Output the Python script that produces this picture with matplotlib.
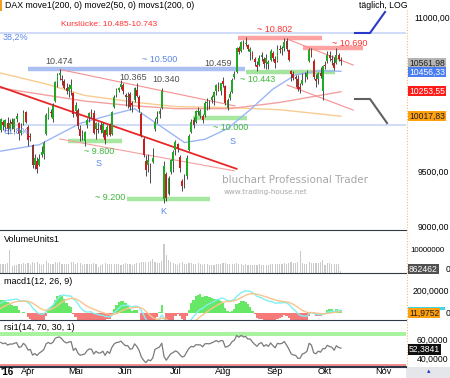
import numpy as np
import pandas as pd
import matplotlib
matplotlib.use("Agg")
import matplotlib.pyplot as plt

plt.rcParams['font.family'] = ['Liberation Sans', 'DejaVu Sans']

# DAX daily candles, 14.03.2016 - 12.10.2016 (one entry per trading day)
opens = [9890, 9960, 9920, 9950, 9900, 9960, 9900, 9990, 9950, 9860, 9940, 10060,
         9920, 9830, 9750, 9560, 9600, 9560, 9650, 9660, 9850, 10000, 10060, 9990, 10160, 10340, 10420, 10380, 10360, 10290, 10260, 10280, 10240,
         10070, 10080, 9900, 9840, 9780, 9930, 10010, 10060, 10050, 9900, 9900, 9930, 9860, 9890, 9840, 9940, 9850, 10110, 10220, 10270, 10300, 10320,
         10220, 10200, 10230, 10140, 10170, 10270, 10200, 10040, 9800, 9600, 9560, 9560, 9590, 9900, 9990, 10040, 10100, 9260, 9480, 9300, 9500, 9600,
         9700, 9760, 9640, 9420, 9420, 9460, 9700, 9870, 9980, 9960, 10060, 10020, 10020, 10030, 10140, 10140, 10170, 10200, 10260, 10310, 10260,
         10360, 10310, 10100, 10190, 10250, 10400, 10450, 10690, 10660, 10730, 10730, 10720, 10650, 10640, 10580, 10520, 10520, 10600, 10580, 10540, 10530, 10570, 10640,
         10580, 10560, 10680, 10680, 10690, 10760, 10670, 10460, 10430, 10400, 10380, 10300, 10330, 10390, 10400, 10560, 10660, 10560, 10380, 10380, 10440, 10260,
         10520, 10560, 10620, 10580, 10540, 10540, 10620, 10570]
highs = [10000, 9985, 9990, 10010, 9990, 10000, 10000, 10050, 9960, 9950, 10080, 10070,
         9930, 9860, 9760, 9660, 9640, 9660, 9740, 9780, 10050, 10110, 10090, 10140, 10360, 10440, 10474, 10420, 10380, 10340, 10330, 10380, 10250,
         10150, 10100, 9930, 9890, 9880, 10000, 10060, 10090, 10080, 9960, 9960, 9960, 9960, 9900, 9930, 9950, 10070, 10220, 10290, 10300, 10365, 10340,
         10240, 10250, 10250, 10160, 10300, 10340, 10220, 10060, 9820, 9650, 9660, 9580, 9720, 10000, 10070, 10100, 10290, 9600, 9500, 9460, 9620, 9700,
         9790, 9770, 9650, 9440, 9480, 9650, 9850, 9990, 10010, 10080, 10110, 10090, 10040, 10160, 10190, 10170, 10220, 10260, 10330, 10350, 10340,
         10400, 10320, 10190, 10260, 10390, 10459, 10700, 10710, 10760, 10770, 10802, 10730, 10700, 10660, 10600, 10560, 10620, 10650, 10600, 10630, 10570, 10680, 10660,
         10610, 10720, 10720, 10710, 10790, 10790, 10680, 10470, 10460, 10420, 10420, 10340, 10440, 10450, 10470, 10690, 10690, 10580, 10430, 10450, 10500, 10520,
         10560, 10660, 10660, 10620, 10600, 10690, 10640, 10600]
lows = [9870, 9885, 9880, 9850, 9880, 9900, 9870, 9960, 9790, 9840, 9930, 9950,
        9740, 9780, 9540, 9530, 9490, 9550, 9640, 9620, 9840, 9990, 10010, 9960, 10150, 10300, 10370, 10320, 10280, 10230, 10200, 10220, 10010,
        10020, 9900, 9780, 9790, 9740, 9910, 9960, 10000, 9850, 9800, 9860, 9860, 9820, 9760, 9830, 9830, 9840, 10100, 10200, 10250, 10280, 10230,
        10120, 10100, 10080, 10060, 10150, 10200, 10060, 9820, 9640, 9460, 9500, 9400, 9580, 9880, 9950, 10000, 10090, 9226, 9240, 9290, 9480, 9500,
        9650, 9680, 9500, 9330, 9360, 9440, 9690, 9860, 9910, 9950, 10030, 10000, 9950, 10010, 10080, 10090, 10140, 10130, 10220, 10260, 10220,
        10300, 10130, 10080, 10170, 10240, 10380, 10440, 10630, 10650, 10680, 10710, 10660, 10570, 10580, 10510, 10460, 10510, 10560, 10490, 10480, 10480, 10560, 10560,
        10490, 10550, 10640, 10620, 10660, 10660, 10560, 10360, 10370, 10300, 10260, 10240, 10320, 10350, 10380, 10550, 10600, 10380, 10300, 10330, 10390, 10170,
        10480, 10540, 10560, 10520, 10470, 10530, 10560, 10520]
closes = [9990, 9933, 9983, 9892, 9950, 9948, 9990, 10022, 9851, 9887, 10046, 9965,
          9794, 9822, 9563, 9624, 9530, 9622, 9682, 9761, 10027, 10094, 10051, 10120, 10350, 10421, 10435, 10373, 10294, 10259, 10300, 10321, 10039,
          10123, 9926, 9828, 9851, 9870, 9980, 10045, 10036, 9862, 9952, 9890, 9890, 9943, 9795, 9916, 9842, 10057, 10205, 10272, 10286, 10333, 10263,
          10204, 10208, 10103, 10121, 10287, 10217, 10088, 9834, 9657, 9519, 9606, 9550, 9631, 9962, 10015, 10071, 10257, 9557, 9268, 9447, 9612, 9680,
          9776, 9709, 9532, 9373, 9418, 9629, 9833, 9964, 9930, 10068, 10066, 10063, 9981, 10142, 10156, 10147, 10198, 10247, 10319, 10275, 10337,
          10330, 10144, 10170, 10228, 10367, 10432, 10692, 10650, 10754, 10713, 10740, 10676, 10679, 10603, 10544, 10495, 10592, 10623, 10529, 10587, 10545, 10657, 10592,
          10534, 10684, 10672, 10688, 10752, 10675, 10573, 10432, 10386, 10378, 10276, 10276, 10373, 10393, 10436, 10674, 10626, 10394, 10361, 10438, 10405, 10511,
          10511, 10619, 10585, 10568, 10490, 10624, 10577, 10562]
# volume in millions
volumes = [4.1, 3.8, 4.0, 4.4, 10.0, 3.2, 3.4, 3.6, 3.9, 3.8, 4.2, 4.0,
           4.3, 3.6, 4.8, 4.2, 4.6, 3.9, 3.5, 3.7, 5.2, 4.4, 4.0, 3.9, 4.7, 4.5, 5.0, 4.1, 3.8, 3.9, 4.0, 4.6, 4.8,
           3.7, 4.5, 4.3, 3.6, 3.9, 3.8, 3.9, 3.7, 4.4, 3.8, 2.5, 3.6, 3.7, 4.2, 4.0, 3.8, 4.1, 4.0, 3.7, 3.9, 3.5, 4.1,
           4.2, 4.0, 4.1, 3.6, 3.9, 4.3, 4.5, 4.8, 4.7, 5.0, 4.9, 5.1, 6.0, 4.8, 4.5, 4.4, 5.2, 12.5, 8.0, 5.5, 4.8, 4.5,
           4.0, 3.6, 4.2, 4.6, 4.0, 4.1, 4.4, 4.3, 3.9, 4.0, 4.5, 3.7, 3.6, 3.9, 3.8, 3.4, 3.5, 3.6, 3.9, 4.1, 4.0,
           4.2, 4.5, 4.0, 3.9, 3.8, 3.7, 4.4, 4.1, 3.8, 3.5, 3.9, 3.6, 3.4, 3.5, 3.6, 3.3, 3.7, 3.5, 3.4, 3.6, 3.5, 3.9, 4.0,
           4.1, 3.8, 3.7, 3.9, 4.2, 4.0, 4.3, 4.6, 4.5, 4.4, 4.8, 9.5, 4.2, 4.0, 4.1, 4.9, 4.3, 4.5, 4.4, 4.2, 4.7, 5.5,
           3.5, 4.4, 4.2, 4.0, 4.1, 3.9, 3.8, 0.86]
# closes Jan - 11.03.2016, only used to start macd / rsi
warmup_closes = [10283, 10310, 10214, 9979, 9849, 9825, 9985, 9960, 9795, 9545, 9521, 9664, 9391, 9574, 9764,
                 9736, 9822, 9880, 9639, 9798, 9757, 9581, 9434, 9393, 9286, 8979, 8879, 9018, 8752, 8967,
                 9206, 9135, 9377, 9463, 9388, 9573, 9416, 9167, 9331, 9513, 9495, 9717, 9777, 9751, 9824,
                 9778, 9692, 9723, 9498, 9831]

month_labels = ["Apr", "Mai", "Jun", "Jul", "Aug", "Sep", "Okt", "Nov"]
month_pos = [12, 33, 55, 77, 98, 121, 143, 169]

# moving averages (bar index, value)
sma200_idx = [0, 20, 37, 60, 77, 101, 123, 150]
sma200_val = [10438, 10330, 10218, 10150, 10110, 10100, 10080, 10018]
movs200_idx = [0, 37, 57, 77, 101, 123, 150]
movs200_val = [10290, 10163, 10120, 10090, 10090, 10150, 10254]
sma50_idx = [0, 17, 35, 50, 59, 70, 81, 90, 100, 110, 120, 130, 140, 150]
sma50_val = [9690, 9750, 9950, 10040, 10090, 9930, 9770, 9800, 9900, 10080, 10280, 10420, 10460, 10456]

# drawn levels and trend lines
fib_levels = [10840, 9934]
band_price = [10474, 10450, 10790, 10690, 10005, 9780, 9255]
band_start = [12, 108, 104.6, 133.3, 84.8, 29.6, 55.7]
band_end = [107.7, 147.4, 141.7, 159.8, 108.6, 53.5, 92.3]
band_color = ["#aac0f2", "#a6e2a0", "#ffa2a2", "#ffa2a2", "#a6e8a0", "#a6e8a0", "#a6e8a0"]
trend_idx = [(0, 104), (26, 103), (26, 103.3), (126.3, 155.4), (126.3, 155.4)]
trend_val = [(10300, 9528), (9803, 9510), (10474, 10116), (10782, 10518), (10320, 10077)]
trend_lw = [1.3, 0.8, 0.8, 0.8, 0.8]
trend_col = ["#e82828", "#f5a0a0", "#f59090", "#f59090", "#f59090"]

W, H = 450, 378
fig = plt.figure(figsize=(4.5, 3.78), dpi=100)


def fx(x):
    return x / W


def fy(y):
    return 1 - y / H


def panel(top, bottom):
    a = fig.add_axes([0, fy(bottom), 406 / W, (bottom - top) / H])
    for s in ["left", "right", "top"]:
        a.spines[s].set_visible(False)
    a.spines["bottom"].set_color("#303848")
    a.set_xticks([])
    a.set_yticks([])
    a.set_xlim(-0.35, 178.7)
    return a


n = len(closes)
idx = np.arange(n)
o = np.array(opens)
c = np.array(closes)
up = c >= o

# ---- main price panel
ax = panel(10, 230)
ax.set_yscale("log")
ax.set_ylim(8989, 11084)
ax.set_yticks([])
ax.minorticks_off()
for lv in fib_levels:
    ax.axhline(lv, color="#c8d6f6", lw=1.2, zorder=1)
for p, s, e, col in zip(band_price, band_start, band_end, band_color):
    ax.plot([s, e], [p, p], color=col, lw=3.2, solid_capstyle="butt", zorder=1)
ax.plot(sma200_idx, sma200_val, color="#f8cc90", lw=1, zorder=2)
ax.plot(movs200_idx, movs200_val, color="#f4a0a0", lw=1, zorder=2)
ax.plot(sma50_idx, sma50_val, color="#9cb6f4", lw=1, zorder=2)
for ti, tv, lw, col in zip(trend_idx, trend_val, trend_lw, trend_col):
    ax.plot(ti, tv, color=col, lw=lw, zorder=2)
ax.vlines(idx, lows, highs, color="#4a4a4a", lw=0.7, zorder=3)
ax.bar(idx, np.abs(c - o), bottom=np.minimum(o, c), width=0.8,
       color=np.where(up, "#22a822", "#c81e1e"), edgecolor="none", zorder=4)

# ---- volume
axv = panel(233, 273)
axv.set_ylim(0, 17.4)
axv.bar(idx, volumes, width=0.5, color="#cacaca")

# ---- macd
s = pd.Series(warmup_closes + closes, dtype=float)
macd = s.ewm(span=12, adjust=False).mean() - s.ewm(span=26, adjust=False).mean()
sig = macd.ewm(span=9, adjust=False).mean()
hist = (macd - sig).values[-n:]
axm = panel(274, 320)
axm.set_ylim(-64, 355)
axh = axm.twinx()
axh.set_ylim(-64 / 2.5, 355 / 2.5)
axh.set_yticks([])
for sp in axh.spines.values():
    sp.set_visible(False)
axh.bar(idx, hist, width=1.0, color=np.where(hist >= 0, "#66e866", "#f77a7a"))
axm.plot(idx, macd.values[-n:], color="#7ff0f4", lw=1)
axm.plot(idx, sig.values[-n:], color="#f8c48c", lw=1)
axm.set_zorder(axh.get_zorder() + 1)
axm.patch.set_visible(False)

# ---- rsi
d = s.diff()
gain = d.clip(lower=0).ewm(alpha=1 / 14, adjust=False).mean()
loss = (-d.clip(upper=0)).ewm(alpha=1 / 14, adjust=False).mean()
rsi = (100 - 100 / (1 + gain / loss)).values[-n:]
axr = panel(322, 366)
axr.set_ylim(27.1, 90)
axr.axhspan(70, 76, color="#a8f2a0", lw=0)
axr.axhspan(27.1, 30, color="#f49090", lw=0)
axr.plot(idx, rsi, color="#7a7a7a", lw=0.9)

# ---- x axis labels
fig.text(fx(0), fy(372), "'16", fontsize=7, fontweight="bold", va="center")
for lab, p in zip(month_labels, month_pos):
    xp = 0.8 + p * 2.267
    fig.text(fx(xp), fy(372), lab, fontsize=6.6, ha="center", va="center")
    fig.add_artist(plt.Line2D([fx(xp), fx(xp)], [fy(366), fy(368.5)], color="#606060", lw=0.8))
fig.add_artist(plt.Line2D([0, fx(406)], [fy(366.5), fy(366.5)], color="#303848", lw=0.8))
fig.add_artist(plt.Rectangle((fx(406), 0), fx(44), 11 / H, color="#e4e6ec", lw=0))
fig.text(fx(429), fy(372), "\u25b4", fontsize=5, color="#2a3ac8", ha="center", va="center")

# ---- right scale column
fig.add_artist(plt.Line2D([fx(407), fx(407)], [fy(10), fy(366)], color="#f0c070", lw=0.8, ls=(0, (1, 1.5))))
rt = dict(fontsize=6.2, va="center", ha="left")
fig.text(fx(414), fy(18), "11000,00", **rt)
fig.text(fx(418), fy(172), "9500,00", **rt)
fig.text(fx(418), fy(227), "9000,00", **rt)
fig.text(fx(410), fy(250), "10000000", fontsize=5.7, va="center", ha="left")
fig.text(fx(446), fy(269), "0", **rt)
fig.text(fx(413), fy(291), "200,0000", **rt)
fig.text(fx(446), fy(313), "0", **rt)
fig.text(fx(417), fy(340), "60,0000", **rt)
fig.text(fx(417), fy(359), "40,0000", **rt)
boxes = [(63, "10561,98", "#b4b4b4", "#202020"), (72, "10456,33", "#4a7ef0", "white"),
         (91, "10253,55", "#ff1a1a", "white"), (116, "10017,83", "#ffa010", "#202020"),
         (269, "862462", "#505050", "white"), (313, "11,9752", "#ffa010", "#202020"),
         (349.5, "52,3841", "#101010", "white")]
for yy, txt, bg, fg in boxes:
    fig.text(fx(409), fy(yy), txt, fontsize=6.2, va="center", ha="left", color=fg, zorder=5,
             bbox=dict(boxstyle="square,pad=0.1", fc=bg, ec="none"))
fig.add_artist(plt.Rectangle((fx(408), fy(309.5)), fx(37), 2.5 / H, color="#40d8e0", lw=0))

# ---- header and annotations
fig.add_artist(plt.Rectangle((0, fy(11)), fx(2), 11 / H, color="#f0a020", lw=0))
fig.text(fx(5), fy(5), "DAX move1(200, 0) move2(50, 0) movs1(200, 0)", fontsize=6.3, va="center")
fig.text(fx(383), fy(5), "täglich, LOG", fontsize=6.3, va="center", ha="center")
fig.add_artist(plt.Line2D([fx(355), fx(370), fx(385)], [fy(33), fy(33), fy(12)], color="#2a3ac8", lw=1.5))
fig.add_artist(plt.Line2D([fx(355), fx(370), fx(387)], [fy(99), fy(99), fy(123)], color="#606060", lw=1.5))

notes = [(109, 24, "Kurslücke: 10.485-10.743", "#ff3030", "center", 6.0),
         (3, 37, "38,2%", "#5a86e6", "left", 6.5),
         (3, 131, "61,8%", "#5a86e6", "left", 6.5),
         (59, 62, "10.474", "#505050", "center", 6.5),
         (160, 59, "~ 10.500", "#5a86e6", "center", 6.5),
         (133, 78, "10.365", "#505050", "center", 6.5),
         (166, 80, "10.340", "#505050", "center", 6.5),
         (218, 63, "10.459", "#505050", "center", 6.5),
         (258, 80, "~ 10.443", "#3cb83c", "center", 6.5),
         (275, 29, "~ 10.802", "#ff3030", "center", 6.5),
         (350, 43, "~ 10.690", "#ff3030", "center", 6.5),
         (99, 152, "~ 9.800", "#3cb83c", "center", 6.5),
         (99, 164, "S", "#5a86e6", "center", 6.5),
         (110, 198, "~ 9.200", "#3cb83c", "center", 6.5),
         (163, 212, "K", "#5a86e6", "center", 6.5),
         (231, 128, "~ 10.000", "#3cb83c", "center", 6.5),
         (233, 141, "S", "#5a86e6", "center", 6.5)]
for xx, yy, txt, col, ha, fs in notes:
    fig.text(fx(xx), fy(yy), txt, fontsize=fs, color=col, ha=ha, va="center")

fig.text(fx(222), fy(180), "bluchart Professional Trader", fontsize=7.5, color="#a8a8a8",
         va="center", family="DejaVu Sans")
fig.text(fx(224), fy(192), "www.trading-house.net", fontsize=5.2, color="#a8a8a8",
         va="center", family="DejaVu Sans")

fig.text(fx(4), fy(240), "VolumeUnits1", fontsize=6.5, va="center")
fig.text(fx(4), fy(281), "macd1(12, 26, 9)", fontsize=6.5, va="center")
fig.text(fx(4), fy(328), "rsi1(14, 70, 30, 1)", fontsize=6.5, va="center")

fig.savefig("out.png", dpi=100)
